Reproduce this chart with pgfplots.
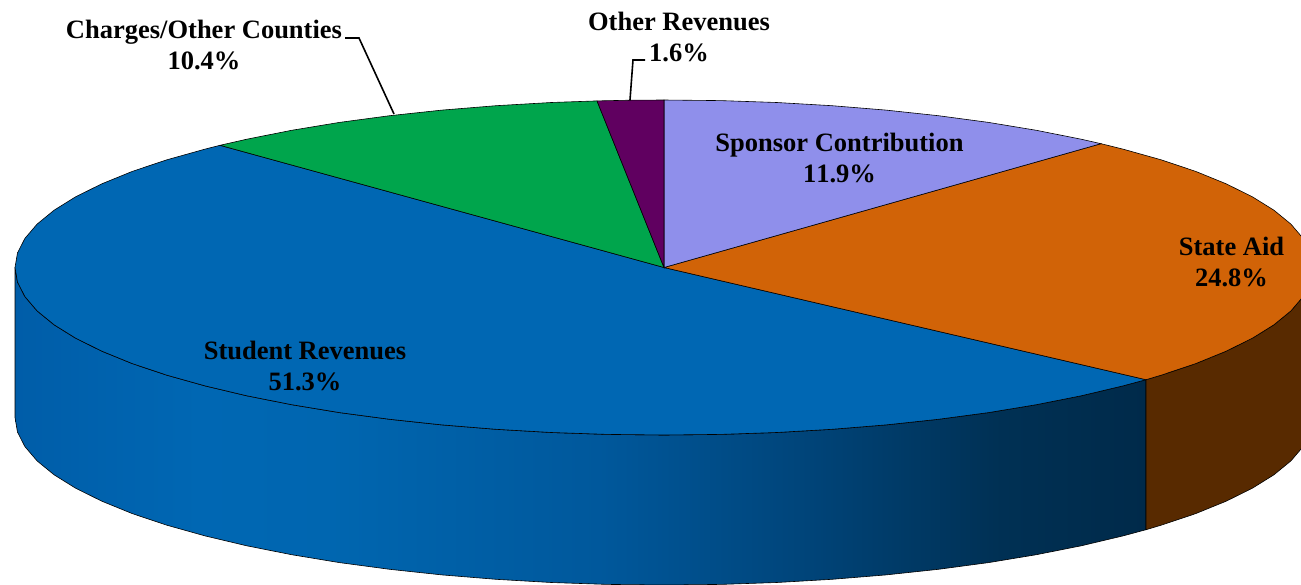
\documentclass[border=0pt]{standalone}
\usepackage{fontspec}
\setmainfont[Kerning=Off]{Liberation Serif}
\usepackage{pgfplots}
\pgfplotsset{compat=1.18}
\definecolor{studentblue}{RGB}{0,103,179}
\definecolor{stateorange}{RGB}{209,99,7}
\definecolor{sponsorlav}{RGB}{143,143,235}
\definecolor{othergreen}{RGB}{0,165,76}
\definecolor{otherpurple}{RGB}{96,0,96}
\definecolor{brownside}{RGB}{88,42,0}
\pgfdeclarehorizontalshading{blueside}{100bp}{
  rgb(0bp)=(0,0.365,0.66);
  rgb(25bp)=(0,0.365,0.66);
  rgb(33.2bp)=(0,0.404,0.702);
  rgb(38.9bp)=(0,0.40,0.69);
  rgb(50.9bp)=(0,0.345,0.61);
  rgb(59.7bp)=(0,0.27,0.48);
  rgb(68.5bp)=(0,0.19,0.33);
  rgb(75bp)=(0,0.165,0.29);
  rgb(100bp)=(0,0.165,0.29)}
\begin{document}
\begin{tikzpicture}
\useasboundingbox (0,0) rectangle (1301pt,584pt);
\begin{axis}[
  at={(0,0)}, anchor=south west,
  hide axis, scale only axis, width=1301pt, height=584pt,
  xmin=0, xmax=1301, ymin=0, ymax=584, y dir=reverse, clip=true,
]
% blue side wall
\addplot[shade, shading=blueside, draw=black, line width=0.6pt] coordinates {
 (15,267.5)(17.5,282.1)(24.9,296.6)(37.1,310.9)(54.1,324.8)(75.8,338.3)(102,351.25)(132.3,363.6)(166.9,375.2)(205.1,385.9)(246.8,395.8)(291.7,404.7)(339.5,412.6)(389.7,419.3)(442,424.9)(496,429.3)(551.3,432.5)(607.4,434.4)(664,435)(720.6,434.4)(776.7,432.5)(832,429.3)(886,424.9)(938.3,419.3)(988.5,412.6)(1036.3,404.7)(1081.2,395.8)(1122.9,385.9)(1146,379.7)
 (1146,529.7)(1122.9,535.9)(1081.2,545.8)(1036.3,554.7)(988.5,562.6)(938.3,569.3)(886,574.9)(832,579.3)(776.7,582.5)(720.6,584.4)(664,585)(607.4,584.4)(551.3,582.5)(496,579.3)(442,574.9)(389.7,569.3)(339.5,562.6)(291.7,554.7)(246.8,545.8)(205.1,535.9)(166.9,525.2)(132.3,513.6)(102,501.25)(75.8,488.3)(54.1,474.8)(37.1,460.9)(24.9,446.6)(17.5,432.1)(15,417.5)
} --cycle;
% brown side wall
\addplot[fill=brownside, draw=black, line width=0.6pt] coordinates {
 (1146,379.7)(1161.1,375.2)(1195.7,363.6)(1226,351.25)(1252.2,338.3)(1273.9,324.8)(1290.9,310.9)(1303.1,296.6)(1310.5,282.1)(1313,267.5)
 (1313,417.5)(1310.5,432.1)(1303.1,446.6)(1290.9,460.9)(1273.9,474.8)(1252.2,488.3)(1226,501.25)(1195.7,513.6)(1161.1,525.2)(1146,529.7)
} --cycle;
% student revenues
\addplot[fill=studentblue, draw=black, line width=0.6pt] coordinates {
 (664,267.5)(1146,379.7)(1122.9,385.9)(1081.2,395.8)(1036.3,404.7)(988.5,412.6)(938.3,419.3)(886,424.9)(832,429.3)(776.7,432.5)(720.6,434.4)(664,435)(607.4,434.4)(551.3,432.5)(496,429.3)(442,424.9)(389.7,419.3)(339.5,412.6)(291.7,404.7)(246.8,395.8)(205.1,385.9)(166.9,375.2)(132.3,363.6)(102,351.25)(75.8,338.3)(54.1,324.8)(37.1,310.9)(24.9,296.6)(17.5,282.1)(15,267.5)(17.5,252.9)(24.9,238.4)(37.1,224.1)(54.1,210.2)(75.8,196.7)(102,183.75)(132.3,171.4)(166.9,159.8)(205.1,149.1)(220,145.3)
} --cycle;
% state aid
\addplot[fill=stateorange, draw=black, line width=0.6pt] coordinates {
 (664,267.5)(1101,143.7)(1122.9,149.1)(1161.1,159.8)(1195.7,171.4)(1226,183.75)(1252.2,196.7)(1273.9,210.2)(1290.9,224.1)(1303.1,238.4)(1310.5,252.9)(1313,267.5)(1310.5,282.1)(1303.1,296.6)(1290.9,310.9)(1273.9,324.8)(1252.2,338.3)(1226,351.25)(1195.7,363.6)(1161.1,375.2)(1146,379.7)
} --cycle;
% sponsor contribution
\addplot[fill=sponsorlav, draw=black, line width=0.6pt] coordinates {
 (664,267.5)(664,100)(720.6,100.6)(776.7,102.5)(832,105.7)(886,110.1)(938.3,115.7)(988.5,122.4)(1036.3,130.3)(1081.2,139.2)(1101,143.7)
} --cycle;
% charges / other counties
\addplot[fill=othergreen, draw=black, line width=0.6pt] coordinates {
 (664,267.5)(220,145.3)(246.8,139.2)(291.7,130.3)(339.5,122.4)(389.7,115.7)(442,110.1)(496,105.7)(551.3,102.5)(597,100.9)
} --cycle;
% other revenues
\addplot[fill=otherpurple, draw=black, line width=0.6pt] coordinates {
 (664,267.5)(597,100.9)(630,100.2)(664,100)
} --cycle;
% leader lines
\addplot[draw=black, line width=1.6pt] coordinates {(345,38)(359,38)(394,114)};
\addplot[draw=black, line width=1.6pt] coordinates {(645,60)(633,60)(630,100)};
\tikzset{lab/.style={align=center, inner sep=0pt, font=\fontsize{26.5}{30.5}\selectfont\bfseries}}
\node[lab] at (axis cs:204,45) {Charges/Other Counties\\10.4\%};
\node[lab] at (axis cs:679,37) {Other Revenues\\1.6\%};
\node[lab] at (axis cs:839.5,158) {Sponsor Contribution\\11.9\%};
\node[lab] at (axis cs:1231.5,262) {State Aid\\24.8\%};
\node[lab] at (axis cs:305,366) {Student Revenues\\51.3\%};
\end{axis}
\end{tikzpicture}
\end{document}
